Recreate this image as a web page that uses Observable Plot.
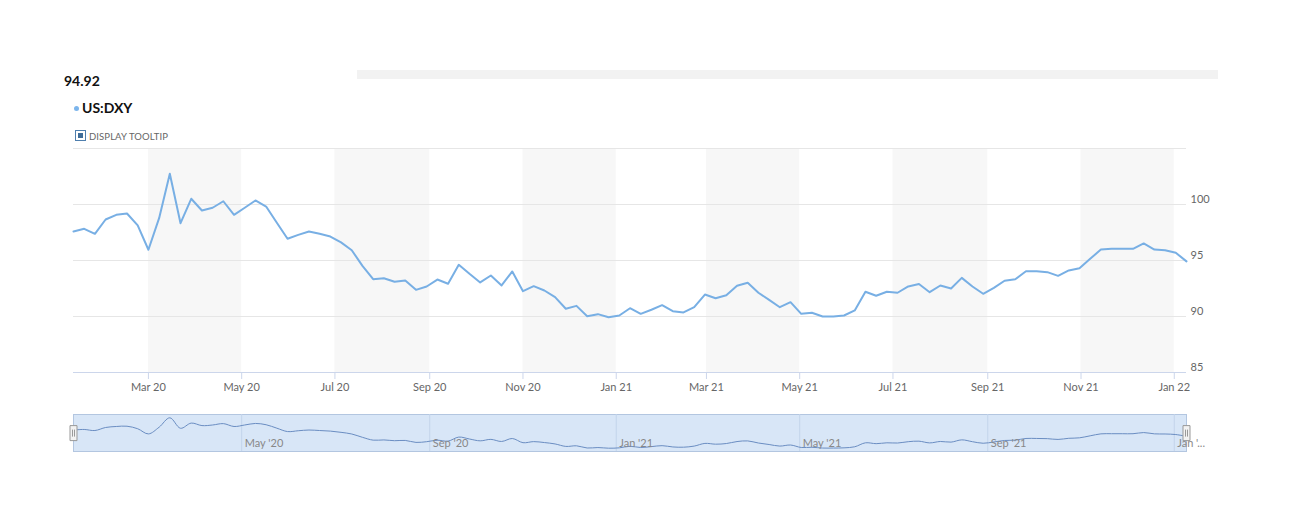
<!DOCTYPE html>
<html>
<head>
<meta charset="utf-8">
<script src="https://cdn.jsdelivr.net/npm/d3@7"></script>
<script src="https://cdn.jsdelivr.net/npm/@observablehq/plot@0.6"></script>
<style>
  html, body { margin: 0; padding: 0; background: #fff; }
  #root { position: relative; width: 1303px; height: 514px; overflow: hidden; font-family: Lato, "Noto Sans", sans-serif; }
  .abs { position: absolute; white-space: nowrap; line-height: 1; }
  #last { left: 64px; top: 73.5px; font-size: 14px; font-weight: 700; color: #111; }
  #series { left: 82px; top: 100.5px; font-size: 14px; font-weight: 700; color: #111; }
  #bullet { left: 73.5px; top: 105.5px; width: 5px; height: 5px; border-radius: 50%; background: #7cb5ec; }
  #tipbox { left: 75px; top: 130px; width: 9px; height: 9px; border: 1px solid #4f7fae; background: #fff; }
  #tipbox div { position: absolute; left: 2px; top: 2px; width: 5px; height: 5px; background: #3f6d99; }
  #tip { left: 89px; top: 131.5px; font-size: 9.5px; color: #666; letter-spacing: 0.1px; }
  #bar { left: 357px; top: 70px; width: 861px; height: 9px; background: #f2f2f2; }
  #main { position: absolute; left: 0; top: 140px; }
  #nav { position: absolute; left: 0; top: 410px; }
</style>
</head>
<body>
<div id="root">
  <div class="abs" id="bar"></div>
  <div class="abs" id="last"></div>
  <div class="abs" id="bullet"></div>
  <div class="abs" id="series"></div>
  <div class="abs" id="tipbox"><div></div></div>
  <div class="abs" id="tip">DISPLAY TOOLTIP</div>
  <div id="main"></div>
  <div id="nav"></div>
</div>
<script>
const seriesName = "US:DXY";

const dates = [
  "2020-01-12","2020-01-19","2020-01-26","2020-02-02","2020-02-09","2020-02-16","2020-02-23",
  "2020-03-01","2020-03-08","2020-03-15","2020-03-22","2020-03-29","2020-04-05","2020-04-12",
  "2020-04-19","2020-04-26","2020-05-03","2020-05-10","2020-05-17","2020-05-24","2020-05-31",
  "2020-06-07","2020-06-14","2020-06-21","2020-06-28","2020-07-05","2020-07-12","2020-07-19",
  "2020-07-26","2020-08-02","2020-08-09","2020-08-16","2020-08-23","2020-08-30","2020-09-06",
  "2020-09-13","2020-09-20","2020-09-27","2020-10-04","2020-10-11","2020-10-18","2020-10-25",
  "2020-11-01","2020-11-08","2020-11-15","2020-11-22","2020-11-29","2020-12-06","2020-12-13",
  "2020-12-20","2020-12-27","2021-01-03","2021-01-10","2021-01-17","2021-01-24","2021-01-31",
  "2021-02-07","2021-02-14","2021-02-21","2021-02-28","2021-03-07","2021-03-14","2021-03-21",
  "2021-03-28","2021-04-04","2021-04-11","2021-04-18","2021-04-25","2021-05-02","2021-05-09",
  "2021-05-16","2021-05-23","2021-05-30","2021-06-06","2021-06-13","2021-06-20","2021-06-27",
  "2021-07-04","2021-07-11","2021-07-18","2021-07-25","2021-08-01","2021-08-08","2021-08-15",
  "2021-08-22","2021-08-29","2021-09-05","2021-09-12","2021-09-19","2021-09-26","2021-10-03",
  "2021-10-10","2021-10-17","2021-10-24","2021-10-31","2021-11-07","2021-11-14","2021-11-21",
  "2021-11-28","2021-12-05","2021-12-12","2021-12-19","2021-12-26","2022-01-02","2022-01-09"
];

const values = [
  97.59, 97.83, 97.38, 98.66, 99.08, 99.20, 98.13,
  95.96, 98.78, 102.74, 98.33, 100.51, 99.46, 99.71,
  100.29, 99.08, 99.71, 100.36, 99.82, 98.37, 96.94,
  97.29, 97.59, 97.38, 97.14, 96.62, 95.92, 94.52,
  93.33, 93.42, 93.10, 93.21, 92.38, 92.68, 93.30,
  92.92, 94.62, 93.81, 93.04, 93.66, 92.77, 94.02,
  92.26, 92.71, 92.32, 91.73, 90.69, 90.95, 90.03,
  90.21, 89.94, 90.09, 90.74, 90.24, 90.60, 91.01,
  90.47, 90.36, 90.83, 91.96, 91.63, 91.90, 92.74,
  93.01, 92.12, 91.49, 90.83, 91.28, 90.24, 90.33,
  90.00, 90.00, 90.09, 90.54, 92.21, 91.85, 92.21,
  92.12, 92.68, 92.90, 92.17, 92.77, 92.50, 93.45,
  92.68, 92.03, 92.56, 93.19, 93.33, 94.04, 94.04,
  93.96, 93.63, 94.11, 94.31, 95.15, 95.98, 96.04,
  96.04, 96.04, 96.52, 95.98, 95.92, 95.69, 94.92
];

const bandStarts = ["2020-03-01","2020-07-01","2020-11-01","2021-03-01","2021-07-01","2021-11-01"];
const bandEnds   = ["2020-05-01","2020-09-01","2021-01-01","2021-05-01","2021-09-01","2022-01-01"];

const xTicks = ["2020-03-01","2020-05-01","2020-07-01","2020-09-01","2020-11-01","2021-01-01",
                "2021-03-01","2021-05-01","2021-07-01","2021-09-01","2021-11-01","2022-01-01"];
const yTicks = [85, 90, 95, 100];
const yGrid = [85, 90, 95, 100, 105];

const navTicks = ["2020-05-01","2020-09-01","2021-01-01","2021-05-01","2021-09-01","2022-01-01"];
const navLabels = ["May '20","Sep '20","Jan '21","May '21","Sep '21","Jan '..."];

const parse = d3.utcParse("%Y-%m-%d");
const data = dates.map((d, i) => ({date: parse(d), value: values[i]}));
const bands = bandStarts.map((s, i) => ({start: parse(s), end: parse(bandEnds[i])}));
const xDomain = [parse(dates[0]), parse(dates[dates.length - 1])];
const navData = navTicks.map((d, i) => ({date: parse(d), label: navLabels[i]}));

document.getElementById("last").textContent = values[values.length - 1].toFixed(2);
document.getElementById("series").textContent = seriesName;

const fmt = d3.utcFormat("%b %y");

const main = Plot.plot({
  width: 1303,
  height: 260,
  marginLeft: 73,
  marginRight: 117,
  marginTop: 8,
  marginBottom: 28,
  style: {fontFamily: "Lato, 'Noto Sans', sans-serif", fontSize: "11px", background: "transparent"},
  x: {type: "utc", domain: xDomain},
  y: {domain: [85, 105]},
  marks: [
    Plot.rect(bands, {x1: "start", x2: "end", fill: "#f7f7f7"}),
    Plot.gridY(yGrid, {stroke: "#e6e6e6", strokeOpacity: 1}),
    Plot.ruleY([85], {stroke: "#ccd6eb"}),
    Plot.axisX(xTicks.map(parse), {tickSize: 7, tickPadding: 4, stroke: "#ccd6eb", strokeOpacity: 1, fill: "#666", tickFormat: fmt, label: null}),
    Plot.axisY(yTicks, {anchor: "right", tickSize: 0, tickPadding: 4, dy: -5, fill: "#666", label: null}),
    Plot.line(data, {x: "date", y: "value", stroke: "#78afe4", strokeWidth: 2})
  ]
});
document.getElementById("main").appendChild(main);

const handleShape = {draw(ctx) { ctx.rect(-3.5, -7.5, 7, 15); }};
const gripShape = {draw(ctx) { ctx.moveTo(-1, -3.5); ctx.lineTo(-1, 3.5); ctx.moveTo(1, -3.5); ctx.lineTo(1, 3.5); }};

const nav = Plot.plot({
  width: 1303,
  height: 45,
  marginLeft: 73,
  marginRight: 117,
  marginTop: 4,
  marginBottom: 4,
  style: {fontFamily: "Lato, 'Noto Sans', sans-serif", fontSize: "11px", background: "transparent"},
  x: {type: "utc", domain: xDomain, axis: null},
  y: {domain: [88.55, 104.13], axis: null},
  marks: [
    Plot.frame({fill: "#d8e6f7", stroke: "#b3c6e0"}),
    Plot.ruleX(navData, {x: "date", stroke: "#c3d4eb"}),
    Plot.line(data, {x: "date", y: "value", curve: "catmull-rom", stroke: "#6a8dc2", strokeWidth: 1}),
    Plot.text(navData, {x: "date", text: "label", frameAnchor: "bottom", dy: -5, dx: 3, textAnchor: "start", fill: "#888", lineAnchor: "bottom"}),
    Plot.dot(xDomain, {x: d => d, y: [96.3, 96.3], symbol: handleShape, fill: "#f2f2f2", stroke: "#999", strokeWidth: 1, r: 1}),
    Plot.dot(xDomain, {x: d => d, y: [96.3, 96.3], symbol: gripShape, fill: "none", stroke: "#999", strokeWidth: 1, r: 1})
  ]
});
document.getElementById("nav").appendChild(nav);
</script>
</body>
</html>
